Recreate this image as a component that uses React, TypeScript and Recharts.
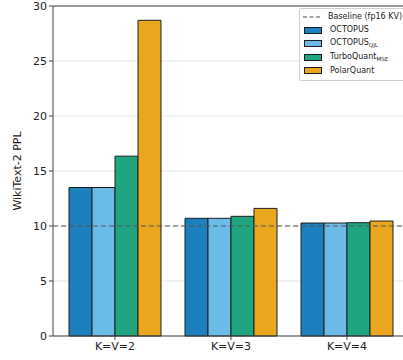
import { Bar, BarChart, CartesianGrid, ReferenceLine, XAxis, YAxis } from 'recharts';

const categories = ['K=V=2', 'K=V=3', 'K=V=4'];
const octopus = [13.5, 10.7, 10.27];
const octopusQjl = [13.5, 10.7, 10.27];
const turboQuant = [16.35, 10.88, 10.3];
const polarQuant = [28.7, 11.6, 10.45];
const yTicks = [0, 5, 10, 15, 20, 25, 30];
const baseline = 10;

const data = categories.map((name, i) => ({
  name,
  octopus: octopus[i],
  octopusQjl: octopusQjl[i],
  turboQuant: turboQuant[i],
  polarQuant: polarQuant[i],
}));

const font = '"DejaVu Sans", sans-serif';
const edge = '#1e1e1e';
const subStyle = { fontSize: 5.5, verticalAlign: '-1.5px' };

const series = [
  { key: 'octopus', color: '#1c7fbe', label: <>OCTOPUS</> },
  { key: 'octopusQjl', color: '#6bbbe9', label: <>OCTOPUS<span style={subStyle}>QJL</span></> },
  { key: 'turboQuant', color: '#1fa680', label: <>TurboQuant<span style={subStyle}>MSE</span></> },
  { key: 'polarQuant', color: '#e8a71e', label: <>PolarQuant</> },
];

function LegendBox() {
  const row = { display: 'flex', alignItems: 'center', height: 13.5, whiteSpace: 'nowrap' as const };
  return (
    <div
      style={{
        position: 'absolute',
        top: 8,
        left: 299,
        background: 'rgba(255,255,255,0.9)',
        border: '1px solid #cfcfcf',
        borderRadius: 2,
        padding: '1px 4px 2px 3px',
        fontFamily: font,
        fontSize: 8,
        color: '#222',
        width: 112,
        lineHeight: 1,
      }}
    >
      <div style={row}>
        <svg width={18} height={6} style={{ marginRight: 7 }}>
          <line x1={0} y1={3} x2={18} y2={3} stroke="#555" strokeWidth={1.2} strokeDasharray="4 2.5" />
        </svg>
        Baseline (fp16 KV)
      </div>
      {series.map((s) => (
        <div key={s.key} style={row}>
          <div
            style={{
              width: 16,
              height: 5,
              background: s.color,
              border: `1px solid ${edge}`,
              marginRight: 8,
              marginLeft: 1,
            }}
          />
          <span>{s.label}</span>
        </div>
      ))}
    </div>
  );
}

export default function App() {
  return (
    <div style={{ position: 'absolute', left: 0, top: 0, width: 403, height: 360, overflow: 'hidden', background: '#fff' }}>
      <BarChart
        width={420}
        height={360}
        data={data}
        margin={{ top: 6, right: 11, bottom: 0, left: 0 }}
        barCategoryGap={12}
        barGap={0}
      >
        <CartesianGrid horizontal vertical={false} stroke="#e6e6e6" />
        <XAxis
          dataKey="name"
          height={24}
          padding={{ left: 4, right: 4 }}
          stroke="#444"
          tickSize={4}
          tickMargin={2}
          tick={{ fill: '#222', fontSize: 11, fontFamily: font }}
        />
        <YAxis
          width={53}
          domain={[0, 30]}
          ticks={yTicks}
          stroke="#444"
          tickSize={4}
          tickMargin={2}
          tick={{ fill: '#222', fontSize: 11, fontFamily: font }}
          label={{
            value: 'WikiText-2 PPL',
            angle: -90,
            position: 'insideLeft',
            offset: 17,
            style: { textAnchor: 'middle', fill: '#222', fontSize: 11, fontFamily: font },
          }}
        />
        {series.map((s) => (
          <Bar
            key={s.key}
            dataKey={s.key}
            fill={s.color}
            stroke={edge}
            strokeWidth={1}
            isAnimationActive={false}
          />
        ))}
        <ReferenceLine y={baseline} stroke="#555" strokeWidth={1.2} strokeDasharray="5 3" />
        <ReferenceLine y={30} stroke="#444" strokeWidth={1} />
      </BarChart>
      <LegendBox />
    </div>
  );
}
